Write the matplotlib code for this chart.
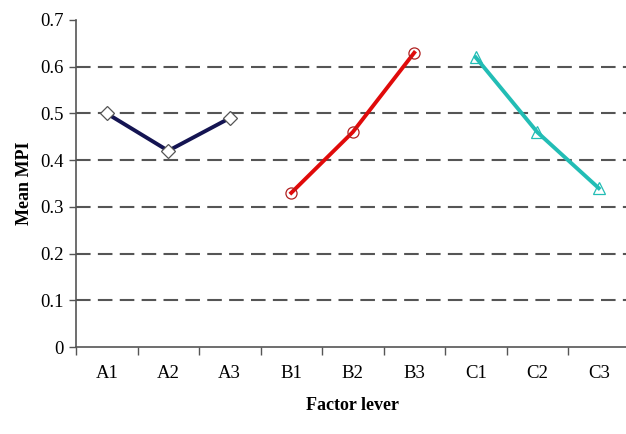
import matplotlib
matplotlib.use("Agg")
import matplotlib.pyplot as plt
import numpy as np

levels = ["A1", "A2", "A3", "B1", "B2", "B3", "C1", "C2", "C3"]
factor_a = [0.50, 0.42, 0.49]
factor_b = [0.33, 0.46, 0.63]
factor_c = [0.62, 0.46, 0.34]
y_ticks = [0, 0.1, 0.2, 0.3, 0.4, 0.5, 0.6, 0.7]

plt.rcParams.update({'font.family': 'Liberation Serif'})
plt.rcParams.update({'font.size': 13})

fig = plt.figure(figsize=(6.26, 4.34), dpi=100)
ax = fig.add_axes([76 / 626, 1 - 347 / 434, 553.5 / 626, 327 / 434])

x = np.arange(len(levels))

# dashed grid lines behind the data
for y in y_ticks[1:-1]:
    ax.axhline(y, color='#555555', lw=1.5, dashes=(7, 3.5), zorder=1)

ax.plot(x[0:3], factor_a, color='#141452', lw=2.8, marker='D', ms=7,
        mfc='white', mec='#555555', mew=0.9, zorder=3)
ax.plot(x[3:6], factor_b, color='#e00a0a', lw=2.8, marker='o', ms=8,
        mfc='none', mec='#b02020', mew=0.9, zorder=3)
ax.plot(x[6:9], factor_c, color='#22bdb5', lw=2.8, marker='^', ms=8,
        mfc='none', mec='#22bdb5', mew=0.9, zorder=3)

ax.set_xlim(-0.5, len(levels) - 0.5)
ax.set_ylim(0, 0.7)
ax.set_yticks(y_ticks)
ax.set_yticklabels(["0", "0.1", "0.2", "0.3", "0.4", "0.5", "0.6", "0.7"])
ax.set_xticks(x)
ax.set_xticklabels(levels)
ax.set_xticks(np.arange(-0.5, len(levels), 1.0), minor=True)
ax.tick_params(axis='x', which='major', length=0, pad=13, labelsize=13.5)
ax.tick_params(axis='x', which='minor', length=6, width=1, color='#555555', direction='out')
ax.tick_params(axis='y', length=5, width=1, color='#555555', labelsize=13.5, pad=4)

for side in ['top', 'right']:
    ax.spines[side].set_visible(False)
for side in ['left', 'bottom']:
    ax.spines[side].set_color('#555555')
    ax.spines[side].set_linewidth(1.2)

ax.set_xlabel("Factor lever", fontweight='bold', fontsize=13, labelpad=11)
ax.set_ylabel("Mean MPI", fontweight='bold', fontsize=13, labelpad=5)

fig.savefig("out.png", dpi=100)
